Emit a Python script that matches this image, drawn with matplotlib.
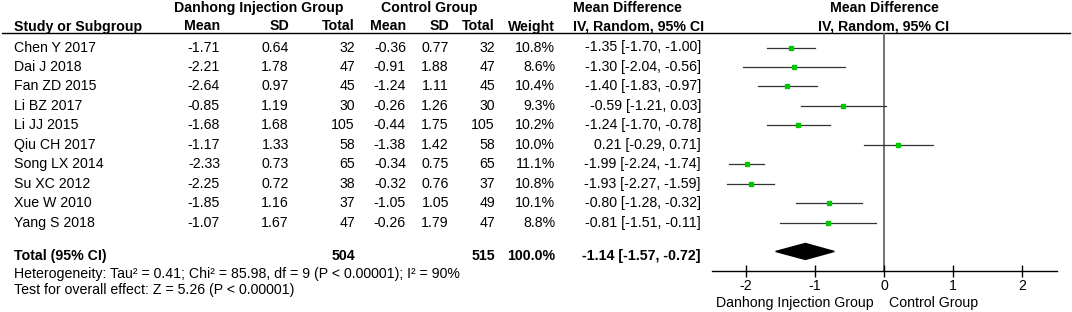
import matplotlib.pyplot as plt

plt.rcParams["font.family"] = ["Liberation Sans", "DejaVu Sans"]

# data
studies = ["Chen Y 2017", "Dai J 2018", "Fan ZD 2015", "Li BZ 2017", "Li JJ 2015",
           "Qiu CH 2017", "Song LX 2014", "Su XC 2012", "Xue W 2010", "Yang S 2018"]
exp_mean = [-1.71, -2.21, -2.64, -0.85, -1.68, -1.17, -2.33, -2.25, -1.85, -1.07]
exp_sd = [0.64, 1.78, 0.97, 1.19, 1.68, 1.33, 0.73, 0.72, 1.16, 1.67]
exp_n = [32, 47, 45, 30, 105, 58, 65, 38, 37, 47]
ctl_mean = [-0.36, -0.91, -1.24, -0.26, -0.44, -1.38, -0.34, -0.32, -1.05, -0.26]
ctl_sd = [0.77, 1.88, 1.11, 1.26, 1.75, 1.42, 0.75, 0.76, 1.05, 1.79]
ctl_n = [32, 47, 45, 30, 105, 58, 65, 37, 49, 47]
weights = [10.8, 8.6, 10.4, 9.3, 10.2, 10.0, 11.1, 10.8, 10.1, 8.8]
md = [-1.35, -1.30, -1.40, -0.59, -1.24, 0.21, -1.99, -1.93, -0.80, -0.81]
ci_lo = [-1.70, -2.04, -1.83, -1.21, -1.70, -0.29, -2.24, -2.27, -1.28, -1.51]
ci_hi = [-1.00, -0.56, -0.97, 0.03, -0.78, 0.71, -1.74, -1.59, -0.32, -0.11]
total_exp = 504
total_ctl = 515
total_weight = 100.0
pooled = [-1.14, -1.57, -0.72]
ticks = [-2, -1, 0, 1, 2]

W, H = 1072, 312
fig = plt.figure(figsize=(W / 100, H / 100), dpi=100)

# text layer in pixel coordinates
ax = fig.add_axes([0, 0, 1, 1])
ax.set_xlim(0, W)
ax.set_ylim(H, 0)
ax.axis("off")

# forest panel
fax = fig.add_axes([711.5 / W, 0, 345 / W, 1])
fax.set_xlim(-2.5, 2.5)
fax.set_ylim(H, 0)
fax.patch.set_visible(False)
for s in ["top", "left", "right"]:
    fax.spines[s].set_visible(False)
axis_y = 271
fax.spines["bottom"].set_position(("data", axis_y))
fax.spines["bottom"].set_linewidth(1.0)
fax.set_yticks([])
fax.set_xticks(ticks)
fax.set_xticklabels([str(t) for t in ticks])
fax.tick_params(axis="x", direction="inout", length=8, width=1.0, labelsize=10.2, pad=2)

fs = 10.2
row0, dy = 47.5, 19.45
rows = [row0 + i * dy for i in range(len(studies))]
total_y = row0 + 11 * dy - 5

# headers
hy1, hy2 = 8, 26.5
bold = dict(fontsize=fs, fontweight="bold", va="center")
ax.text(259, hy1, "Danhong Injection Group", ha="center", **bold)
ax.text(429, hy1, "Control Group", ha="center", **bold)
ax.text(573, hy1, "Mean Difference", ha="left", **bold)
ax.text(884, hy1, "Mean Difference", ha="center", **bold)
ax.text(14, hy2, "Study or Subgroup", ha="left", **bold)
for x, lab in [(220, "Mean"), (289, "SD"), (355, "Total"), (406, "Mean"),
               (449, "SD"), (495, "Total"), (555, "Weight")]:
    ax.text(x, hy2, lab, ha="right", **bold)
ax.text(573, hy2, "IV, Random, 95% CI", ha="left", **bold)
ax.text(884, hy2, "IV, Random, 95% CI", ha="center", **bold)
ax.plot([2, 1070], [33, 33], color="black", lw=1.0)

# study rows
norm = dict(fontsize=fs, va="center")
for i, y in enumerate(rows):
    ax.text(14, y, studies[i], ha="left", **norm)
    ax.text(220, y, f"{exp_mean[i]:.2f}", ha="right", **norm)
    ax.text(289, y, f"{exp_sd[i]:.2f}", ha="right", **norm)
    ax.text(355, y, f"{exp_n[i]}", ha="right", **norm)
    ax.text(406, y, f"{ctl_mean[i]:.2f}", ha="right", **norm)
    ax.text(449, y, f"{ctl_sd[i]:.2f}", ha="right", **norm)
    ax.text(495, y, f"{ctl_n[i]}", ha="right", **norm)
    ax.text(555, y, f"{weights[i]:.1f}%", ha="right", **norm)
    ax.text(701, y, f"{md[i]:.2f} [{ci_lo[i]:.2f}, {ci_hi[i]:.2f}]", ha="right", **norm)
    fax.plot([ci_lo[i], ci_hi[i]], [y, y], color="#333333", lw=0.9, zorder=2)
    fax.plot(md[i], y, marker="s", color="#00c800", ms=3.0 * (weights[i] / 10) ** 0.5,
             mec="#00c800", zorder=3)

# total row
ax.text(14, total_y, "Total (95% CI)", ha="left", **bold)
ax.text(355, total_y, f"{total_exp}", ha="right", **bold)
ax.text(495, total_y, f"{total_ctl}", ha="right", **bold)
ax.text(555, total_y, f"{total_weight:.1f}%", ha="right", **bold)
ax.text(701, total_y, f"{pooled[0]:.2f} [{pooled[1]:.2f}, {pooled[2]:.2f}]", ha="right", **bold)
dmy = total_y - 5
fax.fill([pooled[1], pooled[0], pooled[2], pooled[0]], [dmy, dmy - 8, dmy, dmy + 8],
         color="black", zorder=3)

ax.text(14, total_y + 18, "Heterogeneity: Tau² = 0.41; Chi² = 85.98, df = 9 (P < 0.00001); I² = 90%",
        ha="left", **norm)
ax.text(14, total_y + 34, "Test for overall effect: Z = 5.26 (P < 0.00001)", ha="left", **norm)

# zero line and direction labels
fax.vlines(0, 33, axis_y, color="#666666", lw=1.3, zorder=1)
ax.text(874, 303, "Danhong Injection Group", ha="right", **norm)
ax.text(889, 303, "Control Group", ha="left", **norm)

fig.savefig("out.png", dpi=100)
plt.close(fig)
